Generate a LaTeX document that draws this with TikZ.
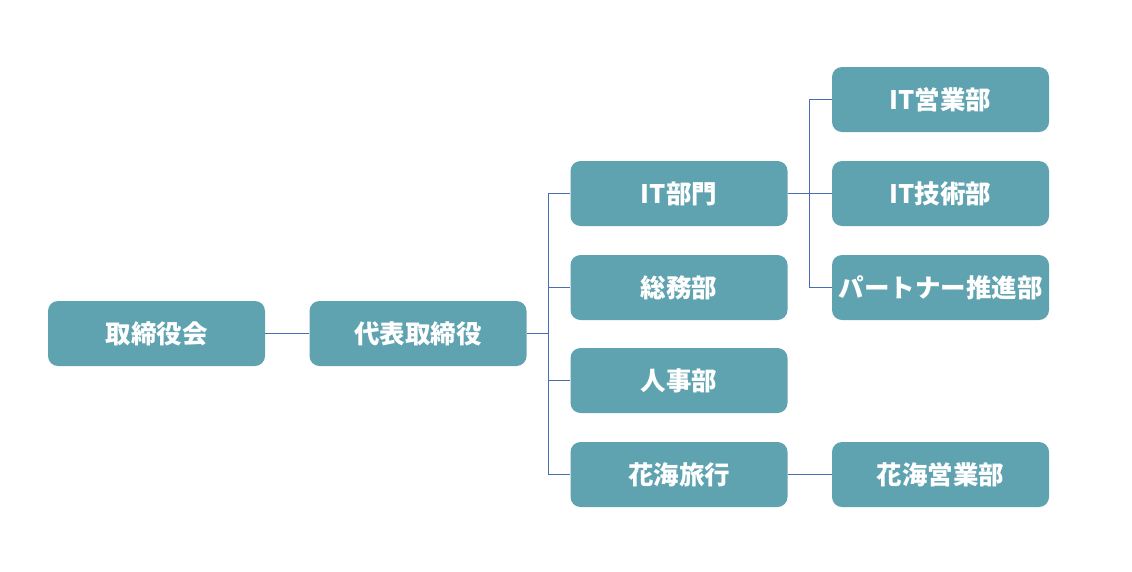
\documentclass[tikz,border=0pt]{standalone}
\usepackage{fontspec}
\setmainfont{Noto Sans CJK JP}
\usepackage{tikz}
\usetikzlibrary{calc}
\definecolor{boxteal}{RGB}{95,163,177}
\definecolor{linkblue}{RGB}{74,108,181}
\tikzset{every node/.append style={font=\fontsize{25.5}{28}\selectfont\bfseries}}
\tikzset{
  orgbox/.style={fill=boxteal, text=white, rounded corners=10pt,
    minimum width=217pt, minimum height=65pt, inner sep=0pt},
  link/.style={draw=linkblue, line width=1.2pt}
}

\begin{document}
\begin{tikzpicture}[x=1pt, y=-1pt]
    \useasboundingbox (0,0) rectangle (1132,571);
    % board and president
    \node[orgbox] (board) at (156.5,333.5) {取締役会};
    \node[orgbox] (ceo) at (418,333.5) {代表取締役};
    % divisions
    \node[orgbox] (itdiv) at (679,193.5) {IT部門};
    \node[orgbox] (soumu) at (679,287.5) {総務部};
    \node[orgbox] (jinji) at (679,380.5) {人事部};
    \node[orgbox] (travel) at (679,474.5) {花海旅行};
    % departments
    \node[orgbox] (itsales) at (940.5,99.5) {IT営業部};
    \node[orgbox] (ittech) at (940.5,193.5) {IT技術部};
    \node[orgbox] (partner) at (940.5,287.5) {パートナー推進部};
    \node[orgbox] (travelsales) at (940.5,474.5) {花海営業部};
    % connectors
    \draw[link] (board.east) -- (ceo.west);
    \coordinate (busA) at ($(ceo.east)+(22,0)$);
    \draw[link] (ceo.east) -- (busA);
    \foreach \n in {itdiv, soumu, jinji, travel}
        \draw[link] (busA) |- (\n.west);
    \coordinate (busB) at ($(itdiv.east)+(22,0)$);
    \draw[link] (itdiv.east) -- (busB);
    \foreach \n in {itsales, ittech, partner}
        \draw[link] (busB) |- (\n.west);
    \draw[link] (travel.east) -- (travelsales.west);
\end{tikzpicture}
\end{document}
